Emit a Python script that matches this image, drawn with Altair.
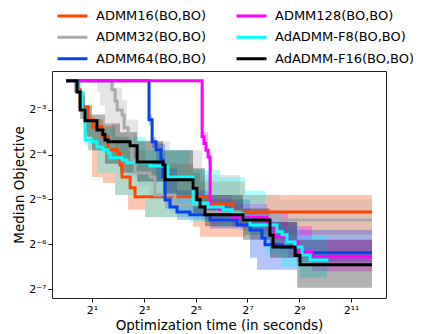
import altair as alt
import pandas as pd

# Series names (plot order) and colours
series_names = ["ADMM16(BO,BO)", "ADMM32(BO,BO)", "ADMM64(BO,BO)",
                "ADMM128(BO,BO)", "AdADMM-F8(BO,BO)", "AdADMM-F16(BO,BO)"]
series_colors = ["#ff4500", "#a9a9a9", "#0a40ee", "#ff00ff", "#00ffff", "#000000"]

# All values are log2(time in s) and log2(objective)
a16_t   = [0.0, 0.42, 0.54, 0.85, 1.04, 1.39, 1.62, 1.97, 2.08, 2.16, 2.47, 2.66, 5.48, 6.44, 11.81]
a16_med = [-2.35, -2.55, -2.93, -3.22, -3.38, -3.60, -3.89, -3.96, -4.23, -4.50, -4.74, -4.94, -5.10, -5.28, -5.28]
a16_bt  = [0.0, 0.42, 0.54, 0.73, 0.85, 1.0, 1.42, 1.89, 2.39, 3.05, 4.90, 5.17, 6.91, 11.81]
a16_lo  = [-2.35, -2.6, -3.0, -3.5, -3.9, -4.5, -4.63, -4.9, -5.23, -5.39, -5.61, -5.83, -5.79, -5.79]
a16_hi  = [-2.35, -2.4, -2.7, -3.0, -3.1, -3.2, -3.35, -3.6, -3.9, -4.2, -4.4, -4.6, -4.9, -4.9]

a32_t   = [0.0, 1.77, 1.89, 1.97, 2.16, 2.24, 2.39, 2.54, 2.66, 3.24, 3.43, 4.20, 5.36, 6.71, 8.26, 11.81]
a32_med = [-2.35, -2.55, -2.8, -3.0, -3.11, -3.40, -3.56, -4.12, -4.41, -4.50, -4.90, -5.12, -5.28, -5.37, -5.46, -5.46]
a32_bt  = [0.0, 1.19, 1.31, 1.50, 1.77, 1.89, 2.16, 2.35, 2.78, 3.24, 4.01, 5.25, 6.71, 8.26, 11.81]
a32_lo  = [-2.35, -2.6, -2.9, -3.3, -3.7, -3.9, -4.1, -4.5, -4.7, -5.0, -5.3, -5.5, -5.7, -5.9, -5.9]
a32_hi  = [-2.35, -2.35, -2.35, -2.35, -2.35, -2.5, -2.78, -3.22, -3.67, -3.7, -3.9, -4.45, -4.9, -5.0, -5.0]

a64_t   = [0.0, 3.20, 3.32, 3.47, 3.66, 3.74, 3.82, 4.01, 4.28, 4.78, 5.56, 6.60, 7.10, 7.56, 7.68, 8.34, 8.92, 11.81]
a64_med = [-2.35, -3.22, -3.71, -3.89, -4.12, -4.50, -5.01, -5.17, -5.28, -5.34, -5.46, -5.57, -5.68, -5.86, -6.01, -6.06, -6.19, -6.19]
a64_bt  = [0.0, 3.20, 3.32, 3.47, 3.82, 4.28, 5.56, 7.10, 7.37, 8.92, 11.81]
a64_lo  = [-2.35, -3.35, -3.85, -4.6, -5.2, -5.45, -5.65, -6.3, -6.57, -6.4, -6.4]
a64_hi  = [-2.35, -3.1, -3.6, -3.75, -4.3, -4.8, -5.0, -5.3, -5.5, -5.68, -5.68]

a128_t   = [0.0, 5.25, 5.32, 5.40, 5.48, 5.56, 5.94, 6.41, 7.76, 8.07, 8.57, 8.95, 9.49, 11.81]
a128_med = [-2.35, -3.60, -3.75, -3.9, -4.05, -5.17, -5.23, -5.39, -5.61, -5.83, -5.95, -6.17, -6.28, -6.28]
a128_bt  = [0.0, 5.25, 5.48, 5.56, 6.41, 7.76, 8.57, 9.49, 11.81]
a128_lo  = [-2.35, -3.7, -4.2, -5.4, -5.6, -6.0, -6.3, -6.6, -6.6]
a128_hi  = [-2.35, -3.5, -3.9, -4.9, -5.1, -5.3, -5.6, -5.9, -5.9]

f8_t   = [0.0, 0.42, 0.61, 0.73, 1.0, 1.19, 1.42, 1.62, 1.69, 2.16, 2.35, 3.24, 3.93, 4.90, 5.48, 6.06, 6.41, 6.83, 7.10, 8.14, 8.34, 8.53, 8.84, 9.11, 9.42, 10.07]
f8_med = [-2.35, -2.6, -3.0, -3.67, -3.71, -3.83, -3.89, -3.96, -4.07, -4.12, -4.18, -4.25, -4.50, -5.08, -5.17, -5.23, -5.32, -5.46, -5.57, -5.72, -5.79, -5.95, -6.06, -6.24, -6.35, -6.39]
f8_bt  = [0.0, 0.42, 0.61, 0.73, 0.85, 1.19, 1.89, 3.05, 4.78, 5.94, 6.91, 7.68, 8.34, 9.03, 10.07]
f8_lo  = [-2.35, -2.6, -3.2, -3.8, -3.9, -4.4, -4.9, -5.4, -5.5, -5.6, -5.8, -6.2, -6.5, -6.75, -6.75]
f8_hi  = [-2.35, -2.4, -2.7, -3.0, -3.2, -3.4, -3.6, -3.9, -4.34, -4.5, -4.8, -5.3, -5.6, -5.8, -5.8]

f16_t   = [0.0, 0.42, 0.54, 0.73, 1.19, 1.42, 1.50, 1.62, 2.47, 2.74, 3.74, 3.82, 4.90, 5.05, 5.17, 5.36, 6.83, 7.87, 7.99, 8.84, 9.03, 11.81]
f16_med = [-2.35, -2.6, -3.0, -3.24, -3.45, -3.55, -3.67, -3.71, -3.80, -4.16, -4.23, -4.56, -4.75, -5.0, -5.17, -5.34, -5.46, -5.80, -6.06, -6.25, -6.46, -6.46]
f16_bt  = [0.0, 0.30, 0.54, 0.73, 1.0, 1.5, 2.08, 2.74, 3.74, 4.90, 5.36, 6.83, 7.87, 8.92, 11.81]
f16_lo  = [-2.35, -2.6, -3.2, -3.6, -3.9, -4.2, -4.4, -4.6, -4.9, -5.3, -5.6, -5.9, -6.3, -6.97, -6.97]
f16_hi  = [-2.35, -2.35, -2.6, -2.9, -3.1, -3.3, -3.5, -3.7, -3.9, -4.3, -4.9, -5.2, -5.5, -5.9, -5.9]

x_tick_values = [2, 8, 32, 128, 512, 2048]
y_tick_values = [0.125, 0.0625, 0.03125, 0.015625, 0.0078125]

lines = [(a16_t, a16_med), (a32_t, a32_med), (a64_t, a64_med),
         (a128_t, a128_med), (f8_t, f8_med), (f16_t, f16_med)]
bands = [(a16_bt, a16_lo, a16_hi), (a32_bt, a32_lo, a32_hi), (a64_bt, a64_lo, a64_hi),
         (a128_bt, a128_lo, a128_hi), (f8_bt, f8_lo, f8_hi), (f16_bt, f16_lo, f16_hi)]

line_rows, band_rows = [], []
for k, name in enumerate(series_names):
    t, m = lines[k]
    for ti, mi in zip(t, m):
        line_rows.append({"series": name, "k": k, "time": 2.0 ** ti, "obj": 2.0 ** mi})
    bt, lo, hi = bands[k]
    for ti, l, h in zip(bt, lo, hi):
        band_rows.append({"band": name, "k": k, "time": 2.0 ** ti, "lo": 2.0 ** l, "hi": 2.0 ** h})
line_df = pd.DataFrame(line_rows)
band_df = pd.DataFrame(band_rows)

FONT = "DejaVu Sans"

x_scale = alt.Scale(type="log", base=2, domain=[0.685, 5220], nice=False, zero=False)
y_scale = alt.Scale(type="log", base=2, domain=[0.0068, 0.2285], nice=False, zero=False)

x_axis = alt.Axis(
    title="Optimization time (in seconds)", values=x_tick_values,
    labelExpr="datum.value < 3 ? '2¹' : datum.value < 10 ? '2³' : datum.value < 40 ? '2⁵' : datum.value < 200 ? '2⁷' : datum.value < 1000 ? '2⁹' : '2¹¹'",
    grid=False, domain=False, tickSize=4, labelPadding=2, titlePadding=3,
)
y_axis = alt.Axis(
    title="Median Objective", values=y_tick_values,
    labelExpr="datum.value > 0.1 ? '2⁻³' : datum.value > 0.05 ? '2⁻⁴' : datum.value > 0.025 ? '2⁻⁵' : datum.value > 0.012 ? '2⁻⁶' : '2⁻⁷'",
    grid=False, domain=False, tickSize=4, labelPadding=2, titlePadding=2,
)

band_layer = alt.Chart(band_df).mark_area(interpolate="step-after", opacity=0.3).encode(
    x=alt.X("time:Q", scale=x_scale, axis=x_axis),
    y=alt.Y("lo:Q", scale=y_scale, axis=y_axis),
    y2="hi:Q",
    fill=alt.Fill("band:N", scale=alt.Scale(domain=series_names, range=series_colors), legend=None),
    detail="band:N",
)

line_layer = alt.Chart(line_df).mark_line(interpolate="step-after", strokeWidth=3).encode(
    x=alt.X("time:Q", scale=x_scale),
    y=alt.Y("obj:Q", scale=y_scale),
    stroke=alt.Stroke(
        "series:N",
        scale=alt.Scale(domain=series_names, range=series_colors),
        legend=alt.Legend(
            orient="none", legendX=10, legendY=-65.75, columns=2, title=None,
            symbolType="M-3,0L3,0", symbolSize=100, symbolStrokeWidth=3,
            labelFont=FONT, labelFontSize=13, labelColor="black", labelLimit=300,
            labelOffset=17, columnPadding=24, rowPadding=7.5, padding=4,
        ),
    ),
    order=alt.Order("k:Q"),
)

chart = alt.layer(band_layer, line_layer).resolve_scale(fill="independent", stroke="independent").properties(
    width=334, height=227,
    autosize=alt.AutoSizeParams(type="none"),
    padding={"left": 44, "top": 63, "right": 27, "bottom": 36},
).configure_view(stroke="#222222", strokeWidth=1).configure_axis(
    labelFont=FONT, labelFontSize=11, labelColor="black",
    titleFont=FONT, titleFontSize=13.5, titleFontWeight="normal", titleColor="black",
    tickColor="black",
)

chart.save("out.html", embed_options={"renderer": "svg", "actions": False})
